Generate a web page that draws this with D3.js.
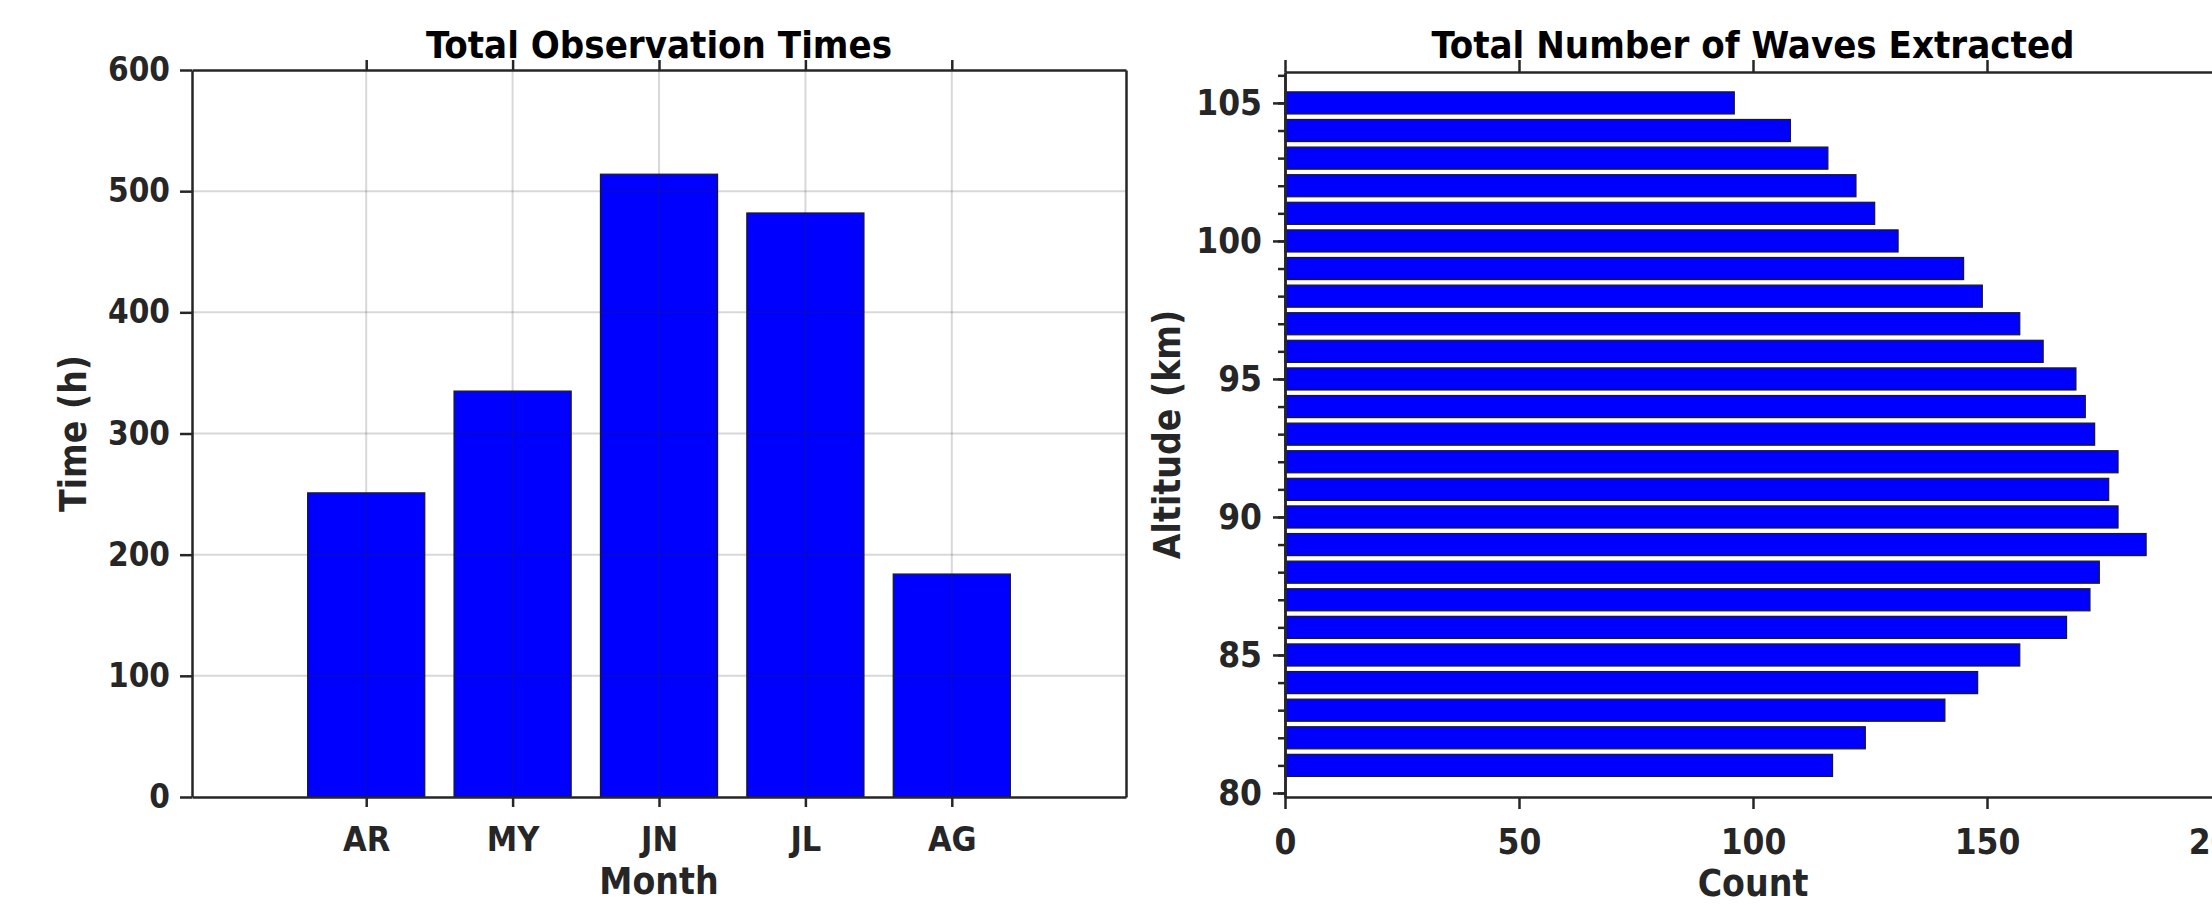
<!DOCTYPE html>
<html><head><meta charset="utf-8">
<script src="https://cdn.jsdelivr.net/npm/d3@7"></script>
<style>
body{margin:0;background:#fff;}
svg text{font-family:"DejaVu Sans Condensed","DejaVu Sans",sans-serif;font-stretch:condensed;font-weight:bold;}
.tick text{fill:#262626;}
</style></head><body><svg id="c" width="2212" height="905"></svg>
<script>
// ---------- data ----------
const months = ["AR", "MY", "JN", "JL", "AG"];
const obsHours = [251, 335, 514, 482, 184];
const timeTicks = [0, 100, 200, 300, 400, 500, 600];

const altitudes = [105, 104, 103, 102, 101, 100, 99, 98, 97, 96, 95, 94, 93, 92, 91, 90, 89, 88, 87, 86, 85, 84, 83, 82, 81];
const waveCounts = [96, 108, 116, 122, 126, 131, 145, 149, 157, 162, 169, 171, 173, 178, 176, 178, 184, 174, 172, 167, 157, 148, 141, 124, 117];
const altTicks = [80, 85, 90, 95, 100, 105];
const altMinorTicks = [80,81,82,83,84,85,86,87,88,89,90,91,92,93,94,95,96,97,98,99,100,101,102,103,104,105,106];
const countTicks = [0, 50, 100, 150, 200];

const axisColor = "#262626";
const barColor = "#0000ff";

const svg = d3.select("#c");
svg.append("rect").attr("width", 2212).attr("height", 905).attr("fill", "#fff");

function styleAxis(g, fs) {
  g.selectAll(".domain").attr("stroke", axisColor).attr("stroke-width", 2.5);
  g.selectAll(".tick line").attr("stroke", axisColor).attr("stroke-width", 2.5);
  g.selectAll(".tick text").style("font-size", fs + "px");
}

// ---------- left chart ----------
const L = {x0: 192, x1: 1126, y0: 797, y1: 70};
const xL = d3.scaleLinear().domain([-1.19, months.length - 1 + 1.19]).range([L.x0, L.x1]);
const yL = d3.scaleLinear().domain([0, 600]).range([L.y0, L.y1]);
const gL = svg.append("g");

gL.selectAll("rect.bar").data(obsHours).join("rect").attr("class", "bar")
  .attr("x", (d, i) => xL(i - 0.4))
  .attr("width", (d, i) => xL(i + 0.4) - xL(i - 0.4))
  .attr("y", d => yL(d))
  .attr("height", d => yL(0) - yL(d))
  .attr("fill", barColor).attr("stroke", "#1a1a1a").attr("stroke-width", 1.2);

// grid (on top, translucent like MATLAB)
gL.append("g").selectAll("line").data(timeTicks.slice(1, -1)).join("line")
  .attr("x1", L.x0).attr("x2", L.x1).attr("y1", d => yL(d)).attr("y2", d => yL(d))
  .attr("stroke", axisColor).attr("stroke-opacity", 0.18).attr("stroke-width", 2);
gL.append("g").selectAll("line").data(months).join("line")
  .attr("x1", (d, i) => xL(i)).attr("x2", (d, i) => xL(i)).attr("y1", L.y0).attr("y2", L.y1)
  .attr("stroke", axisColor).attr("stroke-opacity", 0.18).attr("stroke-width", 2);

gL.append("g").attr("transform", `translate(${L.x0},0)`)
  .call(d3.axisLeft(yL).tickValues(timeTicks).tickSize(12).tickSizeOuter(0).tickPadding(10))
  .call(g => styleAxis(g, 33));
gL.append("g").attr("transform", `translate(0,${L.y0})`)
  .call(d3.axisBottom(xL).tickValues(months.map((m, i) => i)).tickFormat(i => months[i]).tickSize(10).tickSizeOuter(0).tickPadding(20))
  .call(g => styleAxis(g, 34));
gL.append("g").attr("transform", `translate(0,${L.y1})`)
  .call(d3.axisTop(xL).tickValues(months.map((m, i) => i)).tickFormat("").tickSize(10).tickSizeOuter(0))
  .call(g => styleAxis(g, 34));
gL.append("g").attr("transform", `translate(${L.x1},0)`)
  .call(d3.axisRight(yL).tickValues([]).tickSizeOuter(0))
  .call(g => styleAxis(g, 34));

gL.append("text").attr("x", (L.x0 + L.x1) / 2).attr("y", 58).attr("text-anchor", "middle")
  .style("font-size", "38px").attr("fill", "#000").text("Total Observation Times");
gL.append("text").attr("x", (L.x0 + L.x1) / 2).attr("y", 894).attr("text-anchor", "middle")
  .style("font-size", "37px").attr("fill", axisColor).text("Month");
gL.append("text").attr("transform", `translate(86,${(L.y0 + L.y1) / 2}) rotate(-90)`).attr("text-anchor", "middle")
  .style("font-size", "37px").attr("fill", axisColor).text("Time (h)");

// ---------- right chart ----------
const R = {x0: 1285, x1: 2221, y0: 797, y1: 72};
const xR = d3.scaleLinear().domain([0, 200]).range([R.x0, R.x1]);
const yR = d3.scaleLinear().domain([79.855, 106.12]).range([R.y0, R.y1]);
const gR = svg.append("g");

gR.selectAll("rect.bar").data(waveCounts).join("rect").attr("class", "bar")
  .attr("x", xR(0))
  .attr("width", d => xR(d) - xR(0))
  .attr("y", (d, i) => yR(altitudes[i] + 0.4))
  .attr("height", (d, i) => yR(altitudes[i] - 0.4) - yR(altitudes[i] + 0.4))
  .attr("fill", barColor).attr("stroke", "#1a1a1a").attr("stroke-width", 1.2);

gR.append("g").attr("transform", `translate(${R.x0},0)`)
  .call(d3.axisLeft(yR).tickValues(altMinorTicks).tickFormat("").tickSize(7).tickSizeOuter(0))
  .call(g => styleAxis(g, 35));
gR.append("g").attr("transform", `translate(${R.x0},0)`)
  .call(d3.axisLeft(yR).tickValues(altTicks).tickSize(12).tickSizeOuter(0).tickPadding(11))
  .call(g => styleAxis(g, 35));
gR.append("g").attr("transform", `translate(0,${R.y0})`)
  .call(d3.axisBottom(xR).tickValues(countTicks).tickSize(12).tickSizeOuter(0).tickPadding(20))
  .call(g => styleAxis(g, 35));
gR.append("g").attr("transform", `translate(0,${R.y1})`)
  .call(d3.axisTop(xR).tickValues(countTicks).tickFormat("").tickSize(12).tickSizeOuter(0))
  .call(g => styleAxis(g, 35));

gR.append("text").attr("x", (R.x0 + R.x1) / 2).attr("y", 58).attr("text-anchor", "middle")
  .style("font-size", "38px").attr("fill", "#000").text("Total Number of Waves Extracted");
gR.append("text").attr("x", (R.x0 + R.x1) / 2).attr("y", 896).attr("text-anchor", "middle")
  .style("font-size", "37px").attr("fill", axisColor).text("Count");
gR.append("text").attr("transform", `translate(1180,${(R.y0 + R.y1) / 2}) rotate(-90)`).attr("text-anchor", "middle")
  .style("font-size", "37px").attr("fill", axisColor).text("Altitude (km)");
</script></body></html>
